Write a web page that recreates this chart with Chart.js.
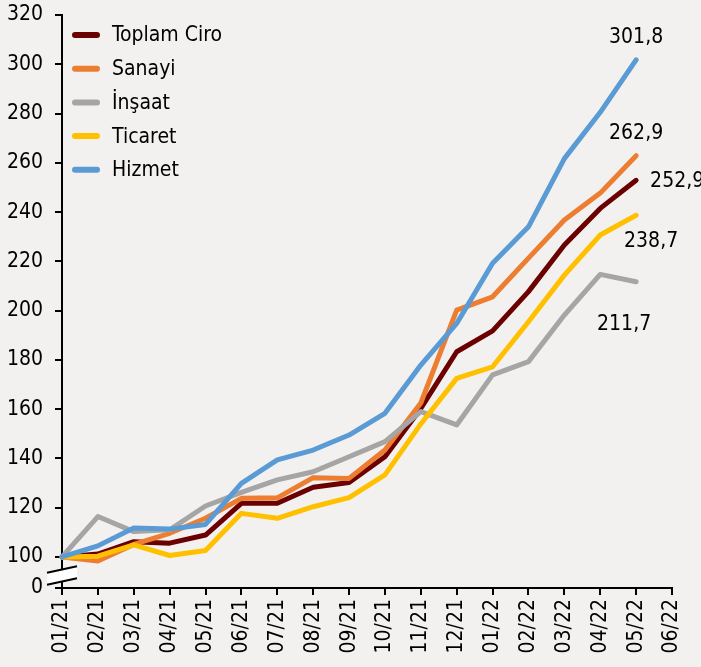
<!DOCTYPE html>
<html lang="tr">
<head>
<meta charset="utf-8">
<title>Ciro Endeksleri</title>
<script src="https://cdn.jsdelivr.net/npm/chart.js@4.4.1/dist/chart.umd.min.js"></script>
<style>
    html, body { margin: 0; padding: 0; background: #f2f1ef; }
    #wrap { width: 701px; height: 667px; }
    canvas { display: block; background: #f2f1ef; }
</style>
</head>
<body>
<div id="wrap"><canvas id="myChart" width="701" height="667"></canvas></div>
<script>
// --- DONNÉES ---
const months = ['01/21', '02/21', '03/21', '04/21', '05/21', '06/21', '07/21', '08/21', '09/21',
    '10/21', '11/21', '12/21', '01/22', '02/22', '03/22', '04/22', '05/22', '06/22'];

const toplamCiro = [100, 101.2, 106.2, 105.6, 108.9, 121.8, 121.8, 128.3, 130.2, 140.7, 160.3, 183.3, 191.8, 207.7, 226.6, 241.5, 252.9];
const sanayi     = [100, 98.4, 105.1, 109.6, 115.7, 123.8, 124.0, 132.2, 131.9, 143.4, 162.5, 200.2, 205.6, 221.3, 236.8, 247.7, 262.9];
const insaat     = [100, 116.4, 110.3, 111.0, 120.7, 126.2, 131.3, 134.6, 140.7, 146.8, 159.0, 153.6, 173.9, 179.3, 198.2, 214.7, 211.7];
const ticaret    = [100, 100.3, 104.9, 100.6, 102.6, 117.7, 115.7, 120.4, 124.1, 133.3, 154.0, 172.5, 177.2, 195.5, 214.4, 230.7, 238.7];
const hizmet     = [100, 104.5, 111.8, 111.3, 113.2, 129.9, 139.4, 143.4, 149.5, 158.3, 177.9, 194.8, 219.2, 234.0, 261.7, 280.5, 301.8];

const seriesNames = ['Toplam Ciro', 'Sanayi', 'İnşaat', 'Ticaret', 'Hizmet'];
const yTickValues = [100, 120, 140, 160, 180, 200, 220, 240, 260, 280, 300, 320];
const breakFloor = 87.4; // position of the "0" tick below the axis break

// --- STYLE ---
const colors = ['#6b0000', '#ed7d31', '#a5a5a5', '#ffc000', '#5b9bd5'];
const FONT = "'DejaVu Sans Condensed', 'DejaVu Sans', sans-serif";
const FONT_SIZE = 21;
// end label placement relative to the last point: [dx, dy, align]
const endLabelOffsets = [[14, 1, 'left'], [0, -22, 'center'], [-12, 43, 'center'], [15, 26, 'center'], [0, -22, 'center']];

const seriesData = [toplamCiro, sanayi, insaat, ticaret, hizmet];

// --- PLUGIN : légende, étiquettes de fin, rupture d'axe ---
const decorPlugin = {
    id: 'decor',
    afterDraw(chart) {
        const ctx = chart.ctx;
        const area = chart.chartArea;
        const yScale = chart.scales.y;

        // axis break
        const cx = area.left;
        const cy = (yScale.getPixelForValue(100) + area.bottom) / 2 + 3;
        ctx.save();
        ctx.fillStyle = '#ffffff';
        ctx.beginPath();
        ctx.moveTo(cx - 15, cy - 6 + 3.3);
        ctx.lineTo(cx + 15, cy - 6 - 3.3);
        ctx.lineTo(cx + 15, cy + 6 - 3.3);
        ctx.lineTo(cx - 15, cy + 6 + 3.3);
        ctx.closePath();
        ctx.fill();
        ctx.strokeStyle = '#000';
        ctx.lineWidth = 2;
        ctx.beginPath();
        ctx.moveTo(cx - 15, cy - 6 + 3.3);
        ctx.lineTo(cx + 15, cy - 6 - 3.3);
        ctx.moveTo(cx - 15, cy + 6 + 3.3);
        ctx.lineTo(cx + 15, cy + 6 - 3.3);
        ctx.stroke();

        // legend
        ctx.font = FONT_SIZE + 'px ' + FONT;
        ctx.textBaseline = 'middle';
        ctx.textAlign = 'left';
        seriesNames.forEach((name, i) => {
            const ly = area.top + 20 + i * 33.7;
            ctx.strokeStyle = colors[i];
            ctx.lineWidth = 6;
            ctx.lineCap = 'round';
            ctx.beginPath();
            ctx.moveTo(area.left + 13, ly);
            ctx.lineTo(area.left + 35, ly);
            ctx.stroke();
            ctx.fillStyle = '#000';
            ctx.fillText(name, area.left + 50, ly + 1);
        });

        // end labels
        chart.data.datasets.forEach((ds, i) => {
            const meta = chart.getDatasetMeta(i);
            const last = meta.data[ds.data.length - 1];
            const [dx, dy, align] = endLabelOffsets[i];
            ctx.textAlign = align;
            ctx.fillStyle = '#000';
            ctx.fillText(ds.data[ds.data.length - 1].toFixed(1).replace('.', ','), last.x + dx, last.y + dy);
        });
        ctx.restore();
    }
};

// --- LE GRAPHIQUE ---
const ctx = document.getElementById('myChart');
const myChart = new Chart(ctx, {
    type: 'line',
    data: {
        labels: months,
        datasets: seriesNames.map((name, i) => ({
            label: name,
            data: seriesData[i],
            borderColor: colors[i],
            backgroundColor: colors[i],
            borderWidth: 5,
            pointRadius: 0,
            tension: 0,
            borderJoinStyle: 'round',
            borderCapStyle: 'round',
            order: seriesNames.length - i
        }))
    },
    options: {
        responsive: false,
        animation: false,
        devicePixelRatio: 1,
        layout: { padding: { top: 15, right: 29, left: 0, bottom: 0 } },
        plugins: { legend: { display: false }, tooltip: { enabled: false } },
        scales: {
            x: {
                offset: false,
                grid: { drawOnChartArea: false, drawTicks: true, tickLength: 7, color: '#000', lineWidth: 2 },
                border: { color: '#000', width: 2 },
                ticks: { color: '#000', font: { family: FONT, size: FONT_SIZE }, minRotation: 90, maxRotation: 90, autoSkip: false, padding: 4 },
                afterFit: (scale) => {
                    scale.height = 79;
                    scale.paddingLeft = 0;
                    scale.paddingRight = 0;
                }
            },
            y: {
                min: breakFloor,
                max: 320,
                grid: { drawOnChartArea: false, drawTicks: true, tickLength: 7, color: '#000', lineWidth: 2 },
                border: { color: '#000', width: 2 },
                afterBuildTicks: (scale) => {
                    scale.ticks = [breakFloor, ...yTickValues].map(v => ({ value: v }));
                },
                ticks: {
                    color: '#000',
                    font: { family: FONT, size: FONT_SIZE },
                    padding: 12,
                    callback: (v) => (v < 100 ? '0' : v)
                },
                afterFit: (scale) => {
                    scale.width = 62;
                    scale.paddingTop = 0;
                    scale.paddingBottom = 0;
                }
            }
        }
    },
    plugins: [decorPlugin]
});
</script>
</body>
</html>
